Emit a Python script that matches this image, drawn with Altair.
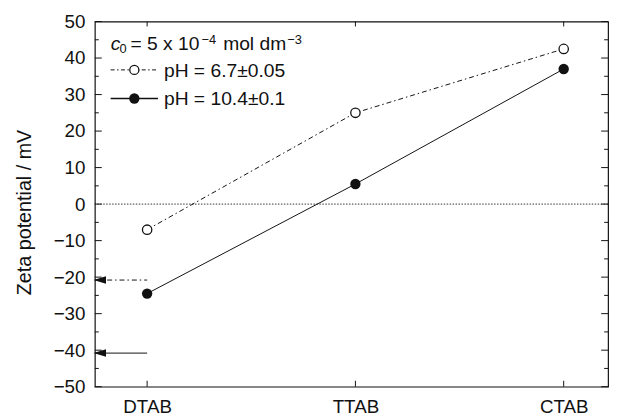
import altair as alt
import pandas as pd

# ---- data ----
categories = ["DTAB", "TTAB", "CTAB"]
ph_low = [-7.0, 25.0, 42.5]      # pH = 6.7 (open circles, dash-dot)
ph_high = [-24.5, 5.5, 37.0]     # pH = 10.4 (filled circles, solid)
arrow_low = [-20.8]              # arrow level for pH 6.7 series
arrow_high = [-40.8]             # arrow level for pH 10.4 series
y_major = [-50, -40, -30, -20, -10, 0, 10, 20, 30, 40, 50]
y_minor = [-45, -35, -25, -15, -5, 5, 15, 25, 35, 45]
series_labels = ["pH = 6.7\u00b10.05", "pH = 10.4\u00b10.1"]
conc_parts = ["c", "0", "= 5 x 10", "\u22124", "mol dm", "\u22123"]

X_DOMAIN = [-0.251, 2.213]
FONT = "Liberation Sans"
INK = "#111111"

idx = list(range(len(categories)))
xs = alt.Scale(domain=X_DOMAIN, nice=False, zero=False)
ys = alt.Scale(domain=[-50, 50], nice=False, zero=False)
label_expr = "[" + ",".join("'%s'" % c for c in categories) + "][datum.value]"
xaxis = alt.Axis(values=idx, labelExpr=label_expr)
yaxis = alt.Axis(values=y_major)
YTITLE = "Zeta potential / mV"


def X(f="x"):
    return alt.X(f + ":Q", scale=xs, axis=xaxis, title=None)


def Y(f="y"):
    return alt.Y(f + ":Q", scale=ys, axis=yaxis, title=YTITLE)


low_df = pd.DataFrame({"x": idx, "y": ph_low})
high_df = pd.DataFrame({"x": idx, "y": ph_high})
DASHDOT = [5, 3, 1.5, 3]

zero = alt.Chart(pd.DataFrame({"y": [0]})).mark_rule(
    color="#333", strokeWidth=1, strokeDash=[1.5, 1.5]).encode(y=Y())

line_low = alt.Chart(low_df).mark_line(color=INK, strokeWidth=1, strokeDash=DASHDOT).encode(x=X(), y=Y())
line_high = alt.Chart(high_df).mark_line(color=INK, strokeWidth=1).encode(x=X(), y=Y())
pt_low = alt.Chart(low_df).mark_point(shape="circle", filled=True, fill="white", stroke=INK,
                                      strokeWidth=1.3, size=90, opacity=1).encode(x=X(), y=Y())
pt_high = alt.Chart(high_df).mark_point(shape="circle", filled=True, color=INK, size=110,
                                        opacity=1).encode(x=X(), y=Y())

arr_low_df = pd.DataFrame({"x": [X_DOMAIN[0]] * len(arrow_low), "x2": [0] * len(arrow_low), "y": arrow_low})
arr_high_df = pd.DataFrame({"x": [X_DOMAIN[0]] * len(arrow_high), "x2": [0] * len(arrow_high), "y": arrow_high})
arr_low = alt.Chart(arr_low_df).mark_rule(color=INK, strokeWidth=1, strokeDash=DASHDOT).encode(
    x=X(), x2="x2:Q", y=Y())
arr_high = alt.Chart(arr_high_df).mark_rule(color=INK, strokeWidth=1).encode(x=X(), x2="x2:Q", y=Y())
HEAD = "M -1 0 L 1 -0.6 L 1 0.6 Z"
head_low = alt.Chart(arr_low_df).mark_point(shape=HEAD, filled=True, color=INK, size=160, opacity=1,
                                            xOffset=5).encode(x=X(), y=Y())
head_high = alt.Chart(arr_high_df).mark_point(shape=HEAD, filled=True, color=INK, size=160, opacity=1,
                                              xOffset=5).encode(x=X(), y=Y())

# inward ticks on the frame
maj = pd.DataFrame({"y": y_major})
mnr = pd.DataFrame({"y": y_minor})
cat = pd.DataFrame({"x": idx})
tick_style = dict(color=INK, strokeWidth=1)
ticks = [
    alt.Chart(maj).mark_rule(**tick_style).encode(x=alt.value(0), x2=alt.value(7), y=Y()),
    alt.Chart(mnr).mark_rule(**tick_style).encode(x=alt.value(0), x2=alt.value(4), y=Y()),
    alt.Chart(maj).mark_rule(**tick_style).encode(x=alt.value(520), x2=alt.value(513), y=Y()),
    alt.Chart(mnr).mark_rule(**tick_style).encode(x=alt.value(520), x2=alt.value(516), y=Y()),
    alt.Chart(cat).mark_rule(**tick_style).encode(x=X(), y=alt.value(370), y2=alt.value(364)),
    alt.Chart(cat).mark_rule(**tick_style).encode(x=X(), y=alt.value(0), y2=alt.value(5)),
]

# legend block
FS = 19.5
SUB = 13
one = pd.DataFrame({"k": [0]})


def txt(s, x, y, size=FS, style="normal"):
    return alt.Chart(one).mark_text(align="left", baseline="alphabetic", font=FONT, fontSize=size,
                                    fontStyle=style, color=INK).encode(
        x=alt.value(x), y=alt.value(y), text=alt.value(s))


legend = [
    txt(conc_parts[0], 16, 29, style="italic"),
    txt(conc_parts[1], 25, 32, size=SUB),
    txt(conc_parts[2], 36, 29),
    txt(conc_parts[3], 108, 23, size=SUB),
    txt(conc_parts[4], 130, 29),
    txt(conc_parts[5], 195, 23, size=SUB),
    alt.Chart(one).mark_rule(color=INK, strokeWidth=1, strokeDash=[4, 2.5, 1.5, 2.5]).encode(
        x=alt.value(16), x2=alt.value(64), y=alt.value(49)),
    alt.Chart(one).mark_point(shape="circle", filled=True, fill="white", stroke=INK, strokeWidth=1.3,
                              size=85, opacity=1).encode(x=alt.value(40), y=alt.value(49)),
    txt(series_labels[0], 70, 56),
    alt.Chart(one).mark_rule(color=INK, strokeWidth=1.3).encode(
        x=alt.value(16), x2=alt.value(64), y=alt.value(78)),
    alt.Chart(one).mark_point(shape="circle", filled=True, color=INK, size=110, opacity=1).encode(
        x=alt.value(40), y=alt.value(78)),
    txt(series_labels[1], 70, 85),
]

chart = alt.layer(zero, line_low, line_high, arr_low, arr_high, head_low, head_high,
                  *ticks, pt_low, pt_high, *legend).properties(
    width=520, height=370,
    autosize=alt.AutoSizeParams(type="none"),
    padding={"left": 88, "top": 11, "right": 5, "bottom": 27},
).configure_view(stroke=INK, strokeWidth=1.2).configure_axis(
    labelFont=FONT, titleFont=FONT, labelColor=INK, titleColor=INK, labelFontSize=19,
    ticks=False, domain=False, grid=False, titleFontWeight="normal",
).configure_axisX(labelPadding=11).configure_axisY(
    labelPadding=10, titleFontSize=20, titleX=-65, titleY=193, titleBaseline="alphabetic")

chart.save("out.html", embed_options={"renderer": "svg", "actions": False})
